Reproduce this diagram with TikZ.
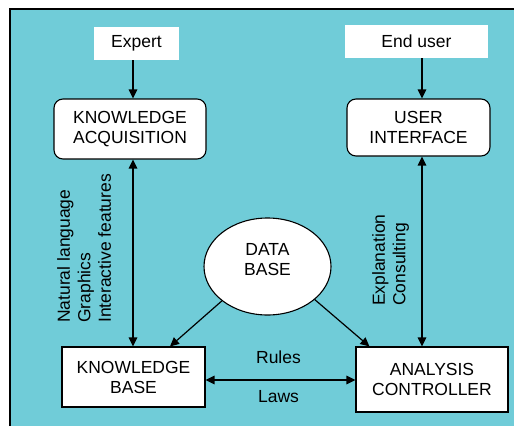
\documentclass[tikz,border=0pt]{standalone}
\usepackage{fontspec}
\setmainfont{Liberation Sans}
\usetikzlibrary{arrows.meta,shapes.geometric,calc}
\definecolor{bgteal}{RGB}{112,204,216}
\tikzset{
  txt/.style={font=\fontsize{17.5}{20}\selectfont, align=center},
  whitebox/.style={txt, fill=white, inner sep=0pt},
  roundbox/.style={txt, draw, fill=white, rounded corners=9pt, line width=1.1pt, inner sep=0pt},
  squarebox/.style={txt, draw, fill=white, line width=1.1pt, inner sep=0pt},
  conn/.style={line width=1.2pt, -{Triangle[length=9pt,width=8.5pt]}},
  dconn/.style={line width=1.2pt, {Triangle[length=9pt,width=8.5pt]}-{Triangle[length=9pt,width=8.5pt]}},
  sidelabel/.style={font=\fontsize{17.5}{20.5}\selectfont, align=left, rotate=90, anchor=north west, inner sep=0pt},
  lbl/.style={font=\fontsize{17.5}{20}\selectfont, inner sep=0pt}
}
\begin{document}
\begin{tikzpicture}[x=1pt,y=-1pt]
\useasboundingbox (0,0) rectangle (514,426);
\fill[white] (0,0) rectangle (514,426);
\fill[bgteal] (10,9) rectangle (514,426);
\draw[line width=2.3pt] (10,426) -- (10,9) -- (514,9);

\node[whitebox, minimum width=85, minimum height=33] (expert) at (136.5,43.5) {Expert};
\node[whitebox, minimum width=143, minimum height=33] (enduser) at (416.5,41.5) {End user};

\node[roundbox, minimum width=152, minimum height=60] (ka) at (130,129) {KNOWLEDGE\\ACQUISITION};
\node[roundbox, minimum width=143, minimum height=57] (ui) at (418.5,127.5) {USER\\INTERFACE};

\node[squarebox, minimum width=143, minimum height=60] (kb) at (133.5,377) {KNOWLEDGE\\BASE};
\node[squarebox, minimum width=152, minimum height=65] (ac) at (432,379.5) {ANALYSIS\\CONTROLLER};

\node[ellipse, draw, fill=white, line width=1.1pt, inner sep=0pt, minimum width=127, minimum height=97,
      txt, text depth=15pt] (db) at (267.5,266.5) {DATA\\BASE};

\coordinate (lx) at (133,0);
\coordinate (rx) at (422,0);

\draw[conn] (expert.south -| lx) -- (ka.north -| lx);
\draw[conn] (enduser.south -| rx) -- (ui.north -| rx);
\draw[dconn] (ka.south -| lx) -- (kb.north -| lx);
\draw[dconn] (ui.south -| rx) -- (ac.north -| rx);
\draw[dconn] (kb.east |- 0,380) -- (ac.west |- 0,380);
\draw[conn] (db.217) -- ($(kb.north)+(36.5,0)$);
\draw[conn] (db.325) -- ($(ac.north west)+(14,0)$);

\node[sidelabel] (nl) at (57,323) {Natural language\\Graphics\\Interactive features};
\node[sidelabel] (ex) at (372,306) {Explanation\\Consulting};

\node[lbl] (rules) at (278.5,357) {Rules};
\node[lbl] (laws) at (278.5,397) {Laws};
\end{tikzpicture}
\end{document}
